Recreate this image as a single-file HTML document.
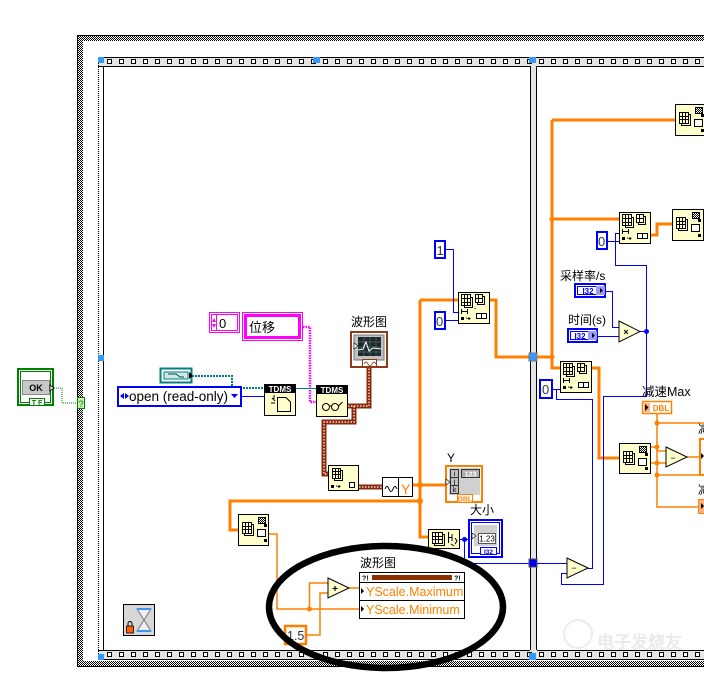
<!DOCTYPE html>
<html><head><meta charset="utf-8">
<style>
html,body{margin:0;padding:0;background:#fff;}
svg{display:block;}
text{font-family:"Liberation Sans","Noto Sans CJK SC",sans-serif;}
</style></head><body>
<svg width="704" height="676" viewBox="0 0 704 676" xmlns="http://www.w3.org/2000/svg">
<defs>
<pattern id="chk" width="2" height="2" patternUnits="userSpaceOnUse"><rect width="2" height="2" fill="#fff"/><rect width="1" height="1" fill="#000"/><rect x="1" y="1" width="1" height="1" fill="#000"/></pattern>
<pattern id="filmT" x="107" y="59" width="12" height="20" patternUnits="userSpaceOnUse"><rect x="0.5" y="0.5" width="4" height="4" fill="#fff" stroke="#000"/></pattern>
<pattern id="filmB" x="107" y="652" width="12" height="20" patternUnits="userSpaceOnUse"><rect x="0.5" y="0.5" width="4" height="4" fill="#fff" stroke="#000"/></pattern>
</defs>

<!-- outer loop frame -->
<rect x="77" y="35" width="640" height="632" fill="url(#chk)"/>
<rect x="83" y="41" width="640" height="620" fill="#fff"/>
<path d="M77.5 667 V35.5 H704" fill="none" stroke="#000"/>
<line x1="77" y1="666.5" x2="704" y2="666.5" stroke="#000"/>

<!-- sequence frame -->
<g shape-rendering="crispEdges">
<rect x="98" y="57" width="620" height="10" fill="#e4e4e4"/>
<line x1="98" y1="57.5" x2="704" y2="57.5" stroke="#000"/>
<line x1="98" y1="66.5" x2="704" y2="66.5" stroke="#000"/>
<rect x="104" y="59" width="600" height="5" fill="url(#filmT)"/>
<rect x="98" y="650" width="620" height="10" fill="#e4e4e4"/>
<line x1="98" y1="650.5" x2="704" y2="650.5" stroke="#000"/>
<line x1="98" y1="659.5" x2="704" y2="659.5" stroke="#000"/>
<rect x="104" y="652" width="600" height="5" fill="url(#filmB)"/>
<line x1="98.5" y1="57" x2="98.5" y2="660" stroke="#000" stroke-dasharray="1 1"/>
<line x1="103.5" y1="66" x2="103.5" y2="650" stroke="#000"/>
<rect x="530" y="66" width="7" height="585" fill="#e4e4e4"/>
<line x1="530.5" y1="66" x2="530.5" y2="650" stroke="#000"/>
<line x1="536.5" y1="66" x2="536.5" y2="650" stroke="#000"/>
<rect x="98" y="57" width="6" height="6" fill="#3399ff"/>
<rect x="313" y="57" width="7" height="6" fill="#3399ff"/>
<rect x="529" y="57" width="7" height="6" fill="#3399ff"/>
<rect x="98" y="355" width="6" height="6" fill="#3399ff"/>
<rect x="98" y="654" width="6" height="6" fill="#3399ff"/>
<rect x="313" y="653" width="6" height="6" fill="#3399ff"/>
<rect x="529" y="653" width="7" height="7" fill="#3399ff"/>
</g>

<!-- OK button -->
<rect x="18" y="369" width="35" height="36" fill="#fff" stroke="#008000" stroke-width="2"/>
<rect x="20.5" y="371.5" width="30" height="31" fill="none" stroke="#008000"/>
<rect x="22.5" y="380.5" width="27" height="14" fill="#c8c8c8" stroke="#888"/>
<text x="36" y="391" font-size="9" font-weight="bold" text-anchor="middle" fill="#000">OK</text>
<polygon points="50,385 54,388 50,391" fill="#fff" stroke="#000" stroke-width="0.8"/>
<rect x="29.5" y="398.5" width="15" height="7" fill="#fff" stroke="#008000"/>
<text x="37" y="405" font-size="7" font-weight="bold" text-anchor="middle" fill="#008000">T F</text>
<path d="M54 388 H62 V403 H77" fill="none" stroke="#008000" stroke-dasharray="1 1"/>
<rect x="77.5" y="397.5" width="7" height="11" fill="#c8f0b0" stroke="#008000"/>
<text x="81" y="407" font-size="9" text-anchor="middle" fill="#008000">?</text>

<!-- pink controls -->
<rect x="209.5" y="312.5" width="30" height="20" fill="#fff" stroke="#f0f"/>
<rect x="211.5" y="314.5" width="26" height="16" fill="#fff" stroke="#f0f"/>
<line x1="216.5" y1="314" x2="216.5" y2="331" stroke="#f0f"/>
<polygon points="212,322 216,322 214,318" fill="#f0f"/>
<polygon points="212,324 216,324 214,328" fill="#f0f"/>
<text x="219" y="328" font-size="13" fill="#000">0</text>
<rect x="242.5" y="312.5" width="60" height="28" fill="#fff" stroke="#f0f"/>
<rect x="245.5" y="315.5" width="54" height="22" fill="#fff" stroke="#f0f" stroke-width="3"/>
<text x="249" y="332" font-size="13" fill="#000">位移</text>
<path d="M303 327 H310 V402 H316" fill="none" stroke="#f0f" stroke-width="2.5" stroke-dasharray="1.5 1"/>

<!-- refnum -->
<rect x="160.5" y="368.5" width="31" height="14" fill="#fff" stroke="#008080" stroke-width="2"/>
<rect x="164" y="372" width="24" height="7" fill="#cfe8e8" stroke="#008080"/>
<path d="M168 374 H176 L180 377 H184" fill="none" stroke="#005050"/>
<polygon points="189,372 193,375.5 189,379" fill="#000"/>
<path d="M192 376 H232 V388 H264" fill="none" stroke="#008080" stroke-width="2" stroke-dasharray="2 1"/>
<line x1="296" y1="388.5" x2="316" y2="388.5" stroke="#008080"/>

<!-- enum -->
<rect x="118" y="387" width="123" height="19" fill="#fff" stroke="#00f" stroke-width="2"/>
<polygon points="124,393 120,396 124,399" fill="#00f"/>
<polygon points="125,393 129,396 125,399" fill="#00f"/>
<text x="129" y="401" font-size="13.5" fill="#000">open (read-only)</text>
<polygon points="231,394 238,394 234.5,398" fill="#00f"/>
<line x1="242" y1="396.5" x2="264" y2="396.5" stroke="#00f"/>

<!-- TDMS open -->
<rect x="264.5" y="384.5" width="31" height="31" fill="#ffffcc" stroke="#000"/>
<rect x="264" y="384" width="32" height="9" fill="#000"/>
<text x="280" y="392" font-size="8" font-weight="bold" text-anchor="middle" fill="#fff">TDMS</text>
<path d="M277.5 397.5 H286 L290.5 402 V411.5 H277.5 Z" fill="#ffffcc" stroke="#000"/>
<path d="M272 398 l3 3 M271 403 h4 M274 395 v4" stroke="#000"/>
<!-- TDMS read -->
<rect x="316.5" y="385.5" width="31" height="31" fill="#ffffcc" stroke="#000"/>
<rect x="316" y="385" width="32" height="9" fill="#000"/>
<text x="332" y="393" font-size="8" font-weight="bold" text-anchor="middle" fill="#fff">TDMS</text>
<circle cx="326" cy="407" r="3.5" fill="none" stroke="#000"/>
<circle cx="335" cy="407" r="3.5" fill="none" stroke="#000"/>
<path d="M329.5 406 h2 M338.5 406 l4 -4" stroke="#000" fill="none"/>

<!-- waveform graph terminal -->
<text x="351" y="326" font-size="12" fill="#000">波形图</text>
<rect x="351" y="332" width="36" height="35" fill="#fff" stroke="#8b3a1a" stroke-width="2"/>
<rect x="354" y="335" width="30" height="25" fill="#c0c0c0" stroke="#777"/>
<rect x="358" y="337" width="23" height="19" fill="#1e2a2a"/>
<path d="M358 342 H381 M358 347 H381 M358 352 H381 M364 337 V356 M370 337 V356 M376 337 V356" stroke="#4a6a6a" stroke-width="0.7"/>
<path d="M358 350 L363 349 L366 342 L369 351 L373 348 L381 349" stroke="#fff" fill="none"/>
<polygon points="354,343 358,346 354,349" fill="#fff" stroke="#000" stroke-width="0.6"/>
<rect x="362.5" y="359.5" width="14" height="7" fill="#fff" stroke="#8b3a1a"/>
<path d="M364 364 q2 -4 4 0 t4 0 t4 0" stroke="#8b3a1a" fill="none" stroke-width="0.8"/>

<!-- brown waveform wires -->
<g fill="none">
<path d="M348 406 H369 V368 M354 406 V422 H324 V474 H328 M359 487 H382" stroke="#8b2a0a" stroke-width="5"/>
<path d="M348 406 H369 V368 M354 406 V422 H324 V474 H328 M359 487 H382" stroke="#fff" stroke-width="1.2" stroke-dasharray="1.5 1.5"/>
</g>

<!-- index node (waveform) -->
<g transform="translate(328,465)">
<rect x=".5" y=".5" width="30" height="25" fill="#ffffcc" stroke="#000"/>
<rect x="6.5" y="5.5" width="8" height="10" fill="#ffffcc" stroke="#000"/>
<rect x="4.5" y="3.5" width="8" height="10" fill="#ffffcc" stroke="#000"/>
<path d="M7.5 3.5 V13.5 M10.5 3.5 V13.5 M4.5 6.5 H12.5 M4.5 9.5 H12.5" stroke="#000"/>
<rect x="3" y="20" width="3" height="3" fill="#000"/>
<path d="M8 21 h1 M11 20 v3 M9.5 21.5 h3" stroke="#000"/>
<rect x="21.5" y="17.5" width="5" height="5" fill="#fff" stroke="#000"/>
</g>
<!-- get waveform component -->
<rect x="382.5" y="477.5" width="30" height="19" fill="#fff" stroke="#000"/>
<line x1="398.5" y1="477" x2="398.5" y2="497" stroke="#000"/>
<path d="M385 489 q2 -5 4 0 t4 0 t4 0" stroke="#000" fill="none"/>
<text x="401" y="494" font-size="14" fill="#ff8000">Y</text>

<!-- orange thick wires left -->
<g fill="none" stroke="#ff8000" stroke-width="3">
<path d="M413 485 H445"/>
<path d="M420 300 V537 H428"/>
<path d="M420 300 H458"/>
<path d="M420 501 H230 V530 H238"/>
<path d="M489 300 H496 V357 H530"/>
</g>
<circle cx="420" cy="485" r="3" fill="#ff8000"/>
<circle cx="420" cy="501" r="3" fill="#ff8000"/>

<!-- consts 1 / 0 -->
<rect x="435" y="241" width="10" height="17" fill="#fff" stroke="#00f" stroke-width="2"/>
<text x="436.5" y="255" font-size="13" fill="#334">1</text>
<rect x="435" y="312" width="10" height="17" fill="#fff" stroke="#00f" stroke-width="2"/>
<text x="436" y="326" font-size="13" fill="#334">0</text>
<path d="M446 249.5 H453.5 V312.5 H458 M446 320.5 H458" fill="none" stroke="#00f"/>

<!-- index node top -->
<g transform="translate(458,292)">
<rect x=".5" y=".5" width="31" height="31" fill="#ffffcc" stroke="#000"/>
<rect x="6.5" y="5.5" width="8" height="10" fill="#ffffcc" stroke="#000"/>
<rect x="3.5" y="2.5" width="9" height="11" fill="#ffffcc" stroke="#000"/>
<path d="M6.5 2.5 V13.5 M9.5 2.5 V13.5 M3.5 6.5 H12.5 M3.5 10.5 H12.5" stroke="#000"/>
<rect x="19.5" y="4.5" width="7" height="8" fill="#ffffcc" stroke="#000"/>
<rect x="17.5" y="2.5" width="7" height="8" fill="#ffffcc" stroke="#000"/>
<path d="M20.5 2.5 V10.5 M17.5 6.5 H24.5" stroke="#000"/>
<path d="M3.5 17 V22 M3.5 19.5 H9.5 M9.5 17 V22" stroke="#000"/>
<rect x="3" y="25" width="3" height="3" fill="#000"/>
<path d="M8 26 h1 M11 25 v3 M9.5 26.5 h3 M14 15 v1 M17 16 v1" stroke="#000"/>
<rect x="18.5" y="21.5" width="10" height="5" fill="#fff" stroke="#000"/>
<line x1="23.5" y1="21.5" x2="23.5" y2="26.5" stroke="#000"/>
</g>

<!-- Y indicator -->
<text x="447" y="462" font-size="12" fill="#000">Y</text>
<rect x="446" y="466" width="36" height="36" fill="#fff" stroke="#ff8000" stroke-width="2"/>
<rect x="449" y="468" width="31" height="27" fill="#d0d0d0"/>
<rect x="450.5" y="469.5" width="8" height="24" fill="#c0c0c0" stroke="#333"/>
<path d="M450.5 477.5 H458.5 M450.5 485.5 H458.5" stroke="#333"/>
<text x="454.5" y="476" font-size="7" text-anchor="middle">i</text>
<text x="454.5" y="484" font-size="7" text-anchor="middle">j</text>
<text x="454.5" y="492" font-size="7" text-anchor="middle">k</text>
<rect x="461.5" y="469.5" width="18" height="8" fill="#b0b0b0" stroke="#333"/>
<text x="470.5" y="476.5" font-size="7" font-weight="bold" text-anchor="middle" fill="#fff">123</text>
<polygon points="446,479 450,482 446,485" fill="#fff" stroke="#000" stroke-width="0.6"/>
<rect x="457.5" y="494.5" width="15" height="8" fill="#fff" stroke="#ff8000"/>
<text x="465" y="501.5" font-size="7" font-weight="bold" text-anchor="middle" fill="#ff8000">DBL</text>

<!-- array size -->
<g transform="translate(428,529)">
<rect x=".5" y=".5" width="31" height="19" fill="#ffffcc" stroke="#000"/>
<rect x="6.5" y="5.5" width="10" height="11" fill="#ffffcc" stroke="#000"/>
<rect x="4.5" y="3.5" width="10" height="11" fill="#ffffcc" stroke="#000"/>
<path d="M7.5 3.5 V14.5 M10.5 3.5 V14.5 M4.5 7.5 H14.5 M4.5 10.5 H14.5" stroke="#000"/>
<path d="M20.5 3 V14 M20.5 8.5 H24 M24 5 V12 M27 9 l2 3 l-2 3 M23 15 l3 2" stroke="#000" fill="none"/>
</g>
<path d="M460 539.5 H468 M464.5 539 V563.5 H530" fill="none" stroke="#00f"/>
<circle cx="464.5" cy="539.5" r="2.5" fill="#00f"/>
<!-- 大小 indicator -->
<text x="470" y="514" font-size="12" fill="#000">大小</text>
<rect x="469" y="520" width="33" height="37" fill="#fff" stroke="#00f" stroke-width="2"/>
<rect x="471.5" y="522.5" width="28" height="31" fill="none" stroke="#00f"/>
<rect x="474" y="525" width="23" height="21" fill="#d0d0d0"/>
<rect x="478.5" y="533.5" width="17" height="10" fill="#fff" stroke="#555"/>
<text x="487" y="541.5" font-size="8" text-anchor="middle">1.23</text>
<polygon points="472,533 476,536 472,539" fill="#fff" stroke="#000" stroke-width="0.6"/>
<rect x="480.5" y="547.5" width="16" height="7" fill="#fff" stroke="#00f"/>
<text x="488.5" y="554" font-size="6.5" font-weight="bold" text-anchor="middle" fill="#00f">I32</text>

<!-- index node bottom-left (subset) -->
<g transform="translate(238,514)">
<rect x=".5" y=".5" width="30" height="31" fill="#ffffcc" stroke="#000"/>
<rect x="6.5" y="10.5" width="9" height="11" fill="#ffffcc" stroke="#000"/>
<rect x="4.5" y="8.5" width="9" height="11" fill="#ffffcc" stroke="#000"/>
<path d="M7.5 8.5 V19.5 M10.5 8.5 V19.5 M4.5 12.5 H13.5 M4.5 15.5 H13.5" stroke="#000"/>
<rect x="20.5" y="3.5" width="7" height="6" fill="url(#chk)" stroke="#000"/>
<rect x="26" y="10" width="3" height="3" fill="#000"/>
<rect x="19.5" y="15.5" width="8" height="7" fill="#fff" stroke="#000"/>
<rect x="26" y="25" width="3" height="3" fill="#000"/>
</g>

<!-- thin orange wires (property) -->
<g fill="none" stroke="#ff8000" stroke-width="1.5">
<path d="M269 534 H277 V609 H359"/>
<path d="M309.5 609 V583 H328"/>
<path d="M328 593 H320 V635 H307"/>
<path d="M349 588 H359"/>
</g>
<circle cx="309.5" cy="609" r="2.5" fill="#ff8000"/>
<polygon points="328,578 349,588 328,598" fill="#ffffcc" stroke="#000"/>
<text x="335" y="592" font-size="10" font-weight="bold" text-anchor="middle">+</text>
<rect x="285" y="626" width="21" height="18" fill="#fff" stroke="#ff8000" stroke-width="2.5"/>
<text x="287" y="640" font-size="12.5" fill="#334">1.5</text>

<!-- property node -->
<text x="360" y="567" font-size="12" fill="#000">波形图</text>
<rect x="359.5" y="572.5" width="105" height="46" fill="#fff" stroke="#000"/>
<line x1="359.5" y1="582.5" x2="464.5" y2="582.5" stroke="#000"/>
<line x1="359.5" y1="600.5" x2="464.5" y2="600.5" stroke="#000"/>
<text x="362" y="580.5" font-size="7" font-weight="bold">?!</text>
<text x="454" y="580.5" font-size="7" font-weight="bold">?!</text>
<rect x="372" y="575" width="80" height="5" fill="#8b3000"/>
<polygon points="361,588 364,591 361,594" fill="#000"/>
<polygon points="361,606 364,609 361,612" fill="#000"/>
<text x="366" y="596" font-size="12.5" fill="#ff8000">YScale.Maximum</text>
<text x="366" y="614" font-size="12.5" fill="#ff8000">YScale.Minimum</text>

<!-- timer -->
<rect x="123.5" y="604.5" width="31" height="31" fill="#d8d8d8" stroke="#000"/>
<path d="M137 609 H151 L144 620 L151 631 H137 L144 620 Z" fill="#eee" stroke="#777"/>
<rect x="137" y="608" width="14" height="2" fill="#3399ff"/>
<rect x="137" y="630" width="14" height="2" fill="#3399ff"/>
<rect x="126.5" y="626" width="7" height="7" fill="#ff6000" stroke="#000" stroke-width="0.8"/>
<path d="M128 626 V623.5 A2 2 0 0 1 132 623.5 V626" fill="none" stroke="#000"/>

<!-- ========== right frame ========== -->
<rect x="529" y="353" width="8" height="8" fill="#3399ff" stroke="#777"/>
<rect x="529" y="559" width="8" height="8" fill="#0000ee" stroke="#555"/>
<g fill="none" stroke="#ff8000" stroke-width="3">
<path d="M537 357 H552"/>
<path d="M552 120 V368 H560"/>
<path d="M552 120 H675"/>
<path d="M552 219 H619"/>
<path d="M651 235 H657 V224 H672"/>
<path d="M592 368 H599 V458 H619"/>
</g>
<circle cx="552" cy="219" r="2.5" fill="#ff8000"/>
<circle cx="552" cy="357" r="2.5" fill="#ff8000"/>

<!-- subset-type nodes -->
<g transform="translate(675,104)">
<rect x=".5" y=".5" width="31" height="31" fill="#ffffcc" stroke="#000"/>
<rect x="6.5" y="10.5" width="9" height="11" fill="#ffffcc" stroke="#000"/>
<rect x="4.5" y="8.5" width="9" height="11" fill="#ffffcc" stroke="#000"/>
<path d="M7.5 8.5 V19.5 M10.5 8.5 V19.5 M4.5 12.5 H13.5 M4.5 15.5 H13.5" stroke="#000"/>
<rect x="20.5" y="3.5" width="7" height="6" fill="url(#chk)" stroke="#000"/>
<rect x="26" y="10" width="3" height="3" fill="#000"/>
<rect x="19.5" y="15.5" width="8" height="7" fill="#fff" stroke="#000"/>
<rect x="26" y="25" width="3" height="3" fill="#000"/>
</g>
<g transform="translate(672,209)">
<rect x=".5" y=".5" width="31" height="31" fill="#ffffcc" stroke="#000"/>
<rect x="6.5" y="10.5" width="9" height="11" fill="#ffffcc" stroke="#000"/>
<rect x="4.5" y="8.5" width="9" height="11" fill="#ffffcc" stroke="#000"/>
<path d="M7.5 8.5 V19.5 M10.5 8.5 V19.5 M4.5 12.5 H13.5 M4.5 15.5 H13.5" stroke="#000"/>
<rect x="20.5" y="3.5" width="7" height="6" fill="url(#chk)" stroke="#000"/>
<rect x="26" y="10" width="3" height="3" fill="#000"/>
<rect x="19.5" y="15.5" width="8" height="7" fill="#fff" stroke="#000"/>
<rect x="26" y="25" width="3" height="3" fill="#000"/>
</g>
<g transform="translate(619,443)">
<rect x=".5" y=".5" width="31" height="30" fill="#ffffcc" stroke="#000"/>
<rect x="6.5" y="10.5" width="9" height="11" fill="#ffffcc" stroke="#000"/>
<rect x="4.5" y="8.5" width="9" height="11" fill="#ffffcc" stroke="#000"/>
<path d="M7.5 8.5 V19.5 M10.5 8.5 V19.5 M4.5 12.5 H13.5 M4.5 15.5 H13.5" stroke="#000"/>
<rect x="20.5" y="3.5" width="7" height="6" fill="url(#chk)" stroke="#000"/>
<rect x="26" y="10" width="3" height="3" fill="#000"/>
<rect x="19.5" y="15.5" width="8" height="7" fill="#fff" stroke="#000"/>
<rect x="26" y="24" width="3" height="3" fill="#000"/>
</g>

<!-- index nodes right -->
<g transform="translate(619,212)">
<rect x=".5" y=".5" width="31" height="31" fill="#ffffcc" stroke="#000"/>
<rect x="6.5" y="5.5" width="8" height="10" fill="#ffffcc" stroke="#000"/>
<rect x="3.5" y="2.5" width="9" height="11" fill="#ffffcc" stroke="#000"/>
<path d="M6.5 2.5 V13.5 M9.5 2.5 V13.5 M3.5 6.5 H12.5 M3.5 10.5 H12.5" stroke="#000"/>
<rect x="19.5" y="4.5" width="7" height="8" fill="#ffffcc" stroke="#000"/>
<rect x="17.5" y="2.5" width="7" height="8" fill="#ffffcc" stroke="#000"/>
<path d="M20.5 2.5 V10.5 M17.5 6.5 H24.5" stroke="#000"/>
<path d="M3.5 17 V22 M3.5 19.5 H9.5 M9.5 17 V22" stroke="#000"/>
<rect x="3" y="25" width="3" height="3" fill="#000"/>
<path d="M8 26 h1 M11 25 v3 M9.5 26.5 h3" stroke="#000"/>
<rect x="18.5" y="21.5" width="10" height="5" fill="#fff" stroke="#000"/>
<line x1="23.5" y1="21.5" x2="23.5" y2="26.5" stroke="#000"/>
</g>
<g transform="translate(560,361)">
<rect x=".5" y=".5" width="31" height="31" fill="#ffffcc" stroke="#000"/>
<rect x="6.5" y="5.5" width="8" height="10" fill="#ffffcc" stroke="#000"/>
<rect x="3.5" y="2.5" width="9" height="11" fill="#ffffcc" stroke="#000"/>
<path d="M6.5 2.5 V13.5 M9.5 2.5 V13.5 M3.5 6.5 H12.5 M3.5 10.5 H12.5" stroke="#000"/>
<rect x="19.5" y="4.5" width="7" height="8" fill="#ffffcc" stroke="#000"/>
<rect x="17.5" y="2.5" width="7" height="8" fill="#ffffcc" stroke="#000"/>
<path d="M20.5 2.5 V10.5 M17.5 6.5 H24.5" stroke="#000"/>
<path d="M3.5 17 V22 M3.5 19.5 H9.5 M9.5 17 V22" stroke="#000"/>
<rect x="3" y="25" width="3" height="3" fill="#000"/>
<path d="M8 26 h1 M11 25 v3 M9.5 26.5 h3" stroke="#000"/>
<rect x="18.5" y="21.5" width="10" height="5" fill="#fff" stroke="#000"/>
<line x1="23.5" y1="21.5" x2="23.5" y2="26.5" stroke="#000"/>
</g>

<!-- blue consts right -->
<rect x="597" y="232" width="10" height="17" fill="#fff" stroke="#00f" stroke-width="2"/>
<text x="598" y="246" font-size="13" fill="#334">0</text>
<rect x="540" y="380" width="12" height="18" fill="#fff" stroke="#00f" stroke-width="2"/>
<text x="542" y="394" font-size="13" fill="#334">0</text>

<!-- I32 controls -->
<text x="560" y="280" font-size="12" fill="#000">采样率/s</text>
<rect x="575" y="284" width="30" height="13" fill="#fff" stroke="#00f" stroke-width="2"/>
<rect x="577.5" y="286.5" width="25" height="8" fill="#fff" stroke="#00f"/>
<rect x="596" y="286" width="9" height="9" fill="#9a9aff"/>
<text x="588" y="294" font-size="8" font-weight="bold" text-anchor="middle" fill="#00f" font-family="Liberation Serif">I32</text>
<polygon points="600,288 603,290.5 600,293" fill="#000"/>
<text x="568" y="324" font-size="12" fill="#000">时间(s)</text>
<rect x="568" y="329" width="29" height="13" fill="#fff" stroke="#00f" stroke-width="2"/>
<rect x="570.5" y="331.5" width="24" height="8" fill="#fff" stroke="#00f"/>
<rect x="588" y="331" width="9" height="9" fill="#9a9aff"/>
<text x="580" y="339" font-size="8" font-weight="bold" text-anchor="middle" fill="#00f" font-family="Liberation Serif">I32</text>
<polygon points="592,333 595,335.5 592,338" fill="#000"/>

<!-- blue wires right -->
<g fill="none" stroke="#00f">
<path d="M607 241.5 H619"/>
<path d="M619 233.5 H615.5 V265.5 H646.5 V331"/>
<path d="M606 291.5 H612.5 V327.5 H619"/>
<path d="M597 336.5 H619"/>
<path d="M640 331.5 H646.5 V396.5 H603.5 V584.5 H561.5 V573.5 H567"/>
<path d="M537 563.5 H567"/>
<path d="M588 568.5 H592.5 V399.5 H556.5 V389.5"/>
<path d="M552 389.5 H560"/>
</g>
<circle cx="646.5" cy="331.5" r="2.5" fill="#00f"/>
<polygon points="619,321 640,331.5 619,342" fill="#ffffcc" stroke="#000"/>
<text x="626" y="335" font-size="9" font-weight="bold" text-anchor="middle">×</text>
<polygon points="567,558 588,568 567,578" fill="#ffffcc" stroke="#000"/>
<text x="574" y="571" font-size="9" text-anchor="middle">−</text>

<!-- 减速Max area -->
<text x="642" y="396" font-size="12.5" fill="#000">减速Max</text>
<rect x="642.5" y="401.5" width="29" height="12" fill="#fff" stroke="#ff8000" stroke-width="1.5"/>
<rect x="644" y="403" width="6" height="9" fill="#ffb080"/>
<polygon points="645,404 648.5,407.5 645,411" fill="#000"/>
<text x="661" y="411" font-size="8" font-weight="bold" text-anchor="middle" fill="#ff8000">DBL</text>
<g fill="none" stroke="#ff8000" stroke-width="1.5">
<path d="M657 414 V507 H698"/>
<path d="M657 423 H704"/>
<path d="M651 447 H657 V451 H666"/>
<path d="M651 463 H666"/>
<path d="M657 475 H704"/>
<path d="M687 457 H699"/>
</g>
<circle cx="657" cy="423" r="2.5" fill="#ff8000"/>
<circle cx="657" cy="447" r="2.5" fill="#ff8000"/>
<circle cx="657" cy="463" r="2.5" fill="#ff8000"/>
<circle cx="657" cy="475" r="2.5" fill="#ff8000"/>
<polygon points="666,447 687,457 666,467" fill="#ffffcc" stroke="#000"/>
<text x="673" y="461" font-size="9" text-anchor="middle">−</text>
<rect x="700" y="439" width="10" height="36" fill="#fff" stroke="#ff8000" stroke-width="2"/>
<polygon points="701,453 704,456 701,459" fill="#000"/>
<text x="698" y="433" font-size="12" fill="#000">减</text>
<text x="698" y="494" font-size="12" fill="#000">减</text>
<rect x="698.5" y="499.5" width="10" height="14" fill="#ffb080" stroke="#ff8000"/>
<polygon points="701,503 704,506 701,509" fill="#000"/>

<!-- watermark -->
<circle cx="578" cy="634" r="14" fill="none" stroke="#ececec" stroke-width="2"/>
<text x="597" y="648" font-size="17" fill="#f0f0f0" stroke="#e2e2e2" stroke-width="0.5">电子发烧友</text>

<!-- big ellipse -->
<ellipse cx="386" cy="607" rx="117" ry="61" fill="none" stroke="#000" stroke-width="6.5"/>
</svg>
</body></html>
